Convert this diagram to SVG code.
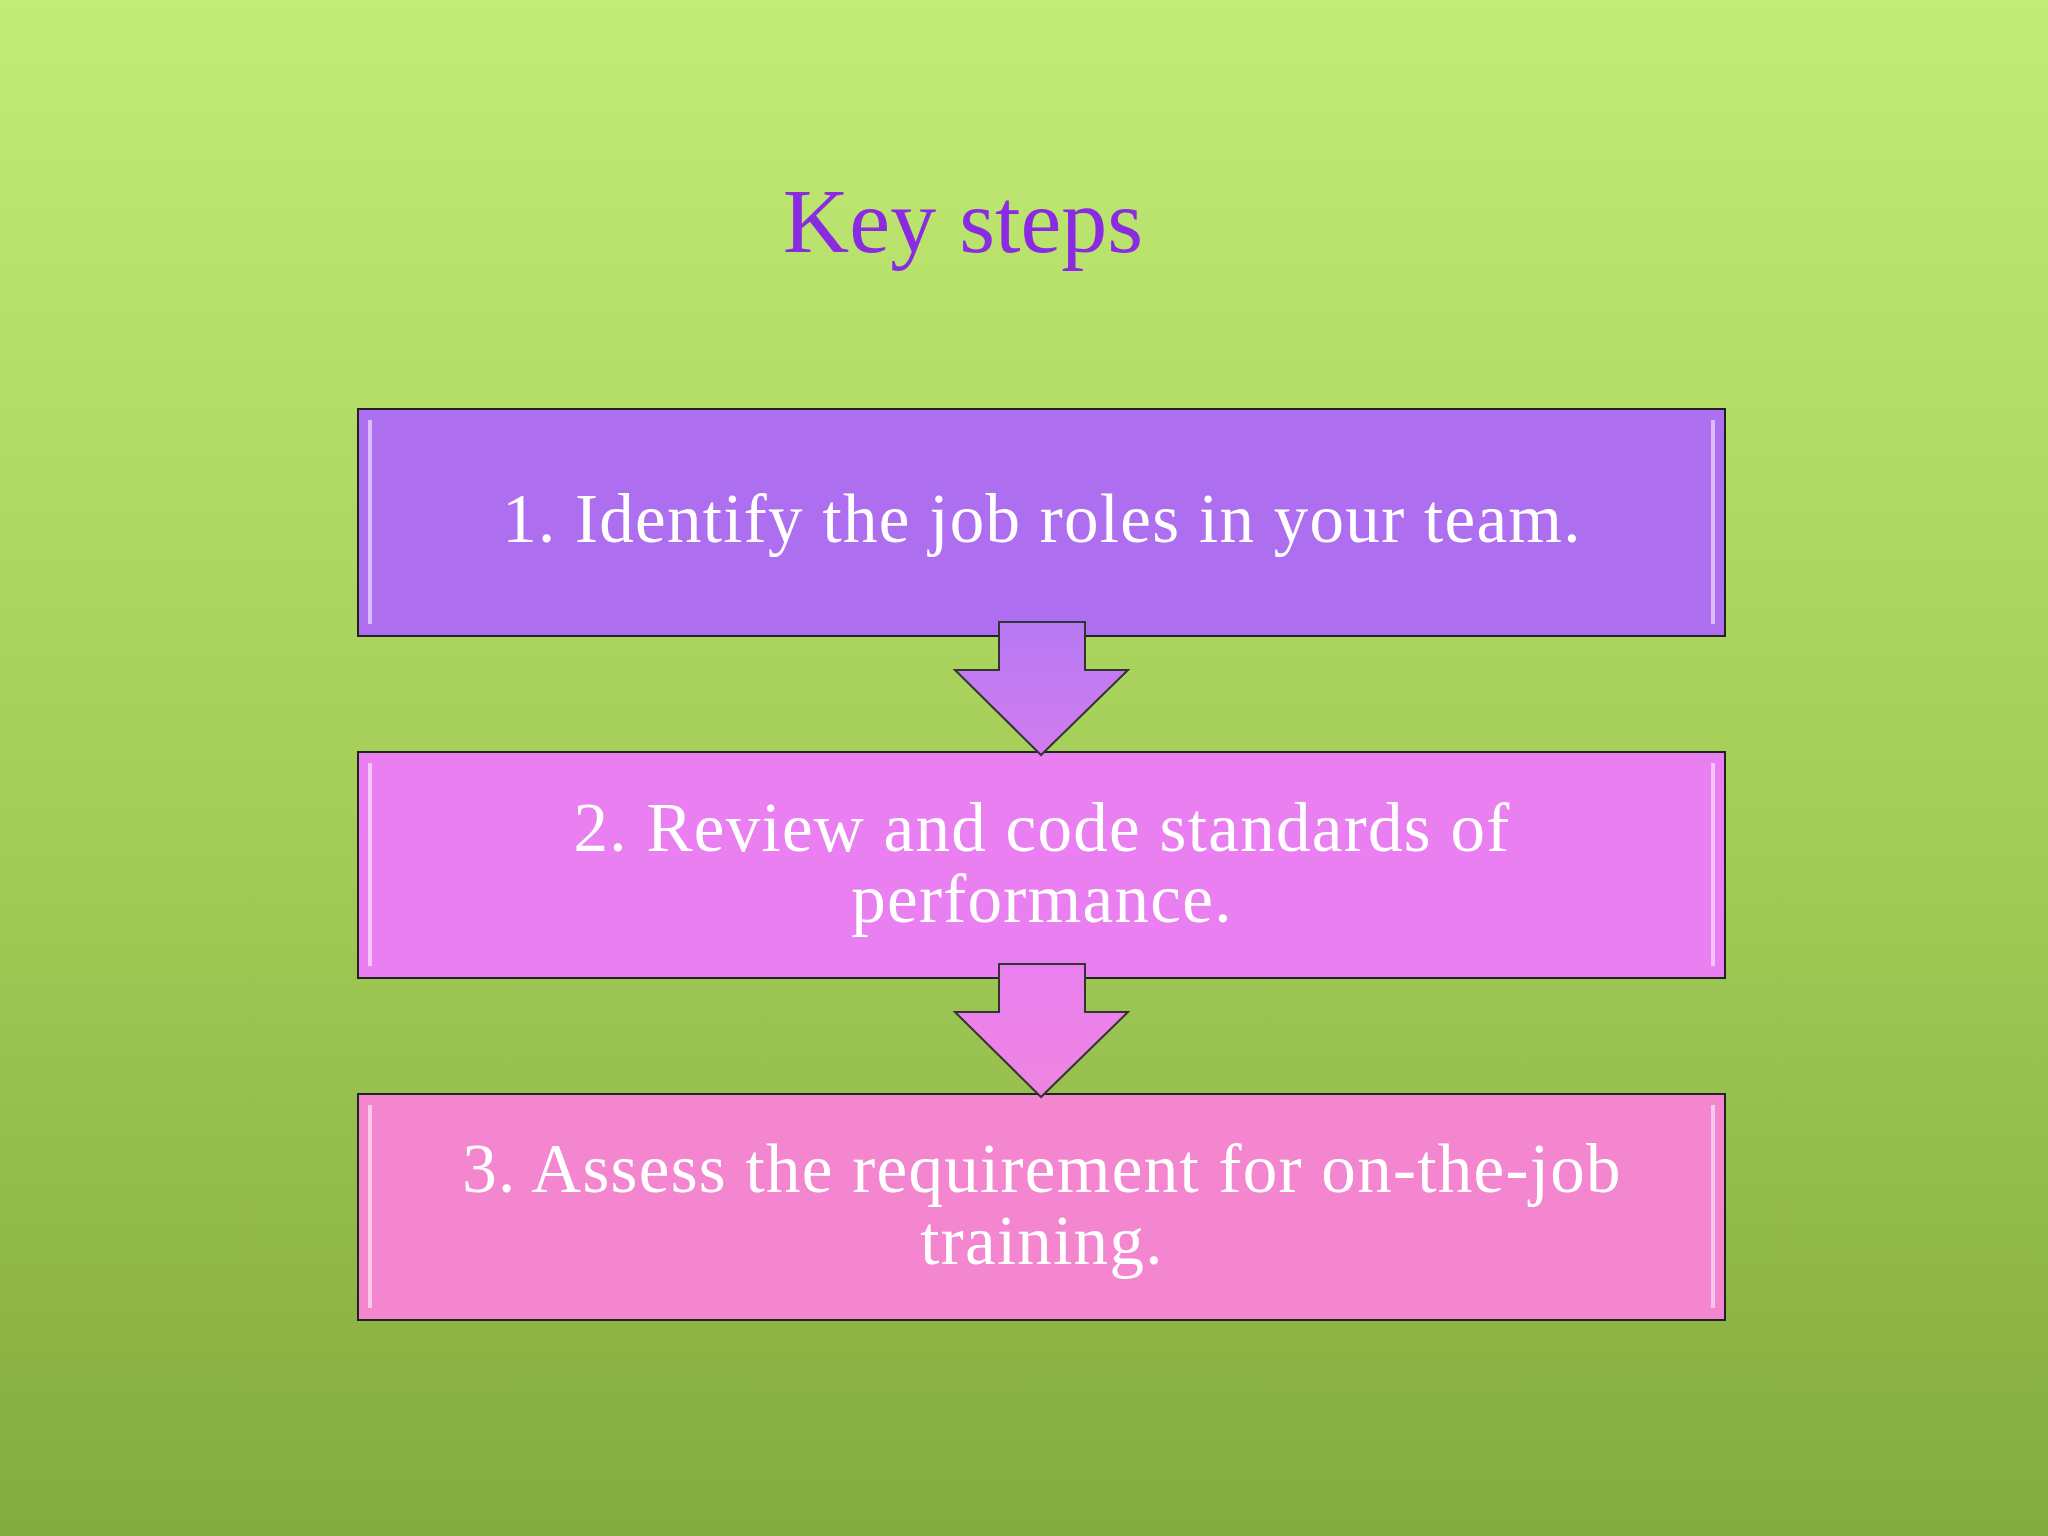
<svg xmlns="http://www.w3.org/2000/svg" width="2048" height="1536" viewBox="0 0 2048 1536">
<defs>
<linearGradient id="bg" x1="0" y1="0" x2="0" y2="1"><stop offset="0" stop-color="#c3ec77"/><stop offset="0.5" stop-color="#a6cf5a"/><stop offset="1" stop-color="#84ab3e"/></linearGradient>
<linearGradient id="a1" x1="0" y1="0" x2="0" y2="1"><stop offset="0" stop-color="#b779f2"/><stop offset="1" stop-color="#d27cf0"/></linearGradient>
<linearGradient id="a2" x1="0" y1="0" x2="0" y2="1"><stop offset="0" stop-color="#ea80f0"/><stop offset="1" stop-color="#ee84e0"/></linearGradient>
</defs>
<style>
.box{stroke:#222;stroke-width:2}
.hl{fill:none;stroke:#fff;stroke-opacity:0.55;stroke-width:4}
.t{font-family:"Liberation Serif",serif;font-size:69px;fill:#fff;text-anchor:middle;letter-spacing:1.3px}
.arr{stroke:#333;stroke-width:2}
</style>
<rect width="2048" height="1536" fill="url(#bg)"/>
<text x="963" y="252" font-family="Liberation Serif,serif" font-size="92" fill="#8a2be2" text-anchor="middle">Key steps</text>
<g id="node1"><rect class="box" x="358" y="409" width="1367" height="227" fill="#ad6ef0"/><path class="hl" d="M370 420 V624 M1713 420 V624"/><text class="t" x="1042" y="542">1. Identify the job roles in your team.</text></g>
<g id="node2"><rect class="box" x="358" y="752" width="1367" height="226" fill="#ea7ff2"/><path class="hl" d="M370 763 V966 M1713 763 V966"/><text class="t" x="1042" y="851">2. Review and code standards of</text><text class="t" x="1042" y="922">performance.</text></g>
<g id="node3"><rect class="box" x="358" y="1094" width="1367" height="226" fill="#f386cf"/><path class="hl" d="M370 1105 V1308 M1713 1105 V1308"/><text class="t" x="1042" y="1192">3. Assess the requirement for on-the-job</text><text class="t" x="1042" y="1264">training.</text></g>
<g id="connectors">
<path class="arr" fill="url(#a1)" d="M999 622 L1085 622 L1085 670 L1128 670 L1041 755 L955 670 L999 670 Z"/>
<path class="arr" fill="url(#a2)" d="M999 964 L1085 964 L1085 1012 L1128 1012 L1041 1097 L955 1012 L999 1012 Z"/>
</g>
</svg>
